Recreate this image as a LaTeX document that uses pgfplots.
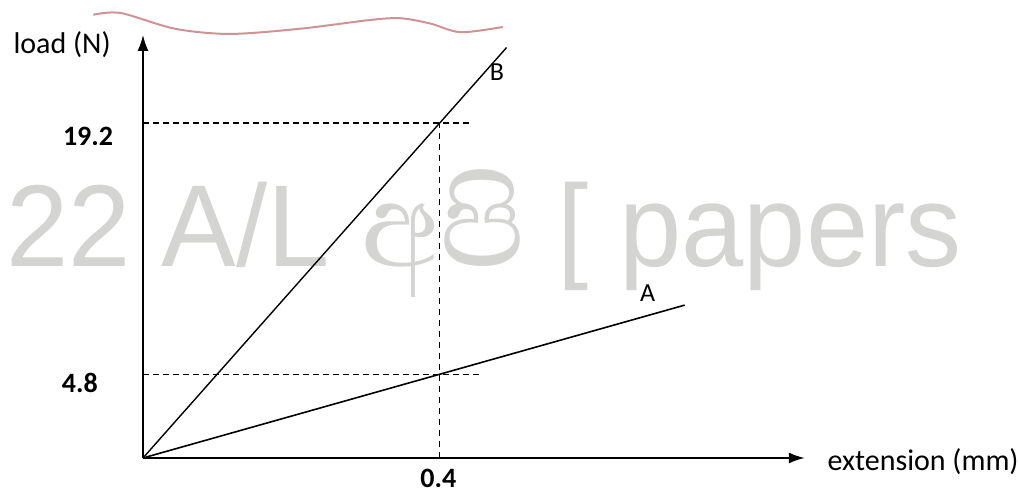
\documentclass[border=0pt]{standalone}
\usepackage{pgfplots}
\pgfplotsset{compat=1.18}
\usetikzlibrary{arrows.meta}
\usepackage{fontspec}
\setmainfont{Carlito}
\newfontfamily\wmfont{Liberation Sans}
\newfontfamily\sinhala[Script=Sinhala]{Abhaya Libre}
\definecolor{wm}{RGB}{212,212,210}
\definecolor{pen}{RGB}{196,120,122}

\begin{document}
\begin{tikzpicture}
\begin{axis}[
    name=ax,
    hide axis,
    x=371pt, y=8.725pt,
    xmin=-0.1927, xmax=1.1806,
    ymin=-2.063, ymax=26.246,
    clip=false,
]
  % watermark
  \node[anchor=base west, inner sep=0pt, text=wm, font=\wmfont\fontsize{56}{56}\selectfont]
    at (axis cs:-0.185,10.95) {\scalebox{1}[1.04]{22 A/L \scalebox{1.3}{\sinhala අපි} [ papers}};

  % pen scribble along the top
  \draw[pen, line width=1pt, opacity=0.8] plot[smooth] coordinates {
    (axis cs:-0.067,25.4) (axis cs:-0.03,25.5) (axis cs:0.043,24.6) (axis cs:0.117,24.3)
    (axis cs:0.212,24.6) (axis cs:0.306,25.1) (axis cs:0.347,25.2) (axis cs:0.387,24.9)
    (axis cs:0.428,24.4) (axis cs:0.485,24.7)};

  % guide lines
  \draw[line width=0.7pt, dash pattern=on 3pt off 2pt]
    (axis cs:0,19.2) -- (axis cs:0.44,19.2);
  \draw[line width=0.7pt, dash pattern=on 3pt off 2pt]
    (axis cs:0,4.8) -- (axis cs:0.455,4.8);
  \draw[line width=0.6pt, dash pattern=on 3pt off 2.5pt]
    (axis cs:0.4,0) -- (axis cs:0.4,19.2);

  % data lines
  \addplot[black, line width=0.8pt, mark=none] coordinates {(0,0) (0.73,8.76)};
  \addplot[black, line width=0.7pt, mark=none] coordinates {(0,0) (0.49,23.52)};

  % axes
  \draw[line width=1pt, -{Latex[length=8pt,width=5.5pt]}] (axis cs:0,0) -- (axis cs:0.892,0);
  \draw[line width=0.8pt, -{Latex[length=8pt,width=5.5pt]}] (axis cs:0,0) -- (axis cs:0,24.24);

  % labels
  \node[font=\fontsize{15}{15}\selectfont] at (axis cs:-0.109,23.67) {load (N)};
  \node[anchor=west, font=\fontsize{15}{15}\selectfont] at (axis cs:0.913,-0.2) {extension (mm)};
  \node[font=\bfseries\fontsize{14}{14}\selectfont] at (axis cs:-0.074,18.4) {19.2};
  \node[font=\bfseries\fontsize{14}{14}\selectfont] at (axis cs:-0.085,4.3) {4.8};
  \node[font=\bfseries\fontsize{14}{14}\selectfont] at (axis cs:0.398,-1.15) {0.4};
  \node[font=\fontsize{13}{13}\selectfont] at (axis cs:0.477,22.1) {B};
  \node[font=\fontsize{13}{13}\selectfont] at (axis cs:0.68,9.45) {A};
\end{axis}
\pgfresetboundingbox
\path (ax.south west) rectangle (ax.north east);
\end{tikzpicture}
\end{document}
